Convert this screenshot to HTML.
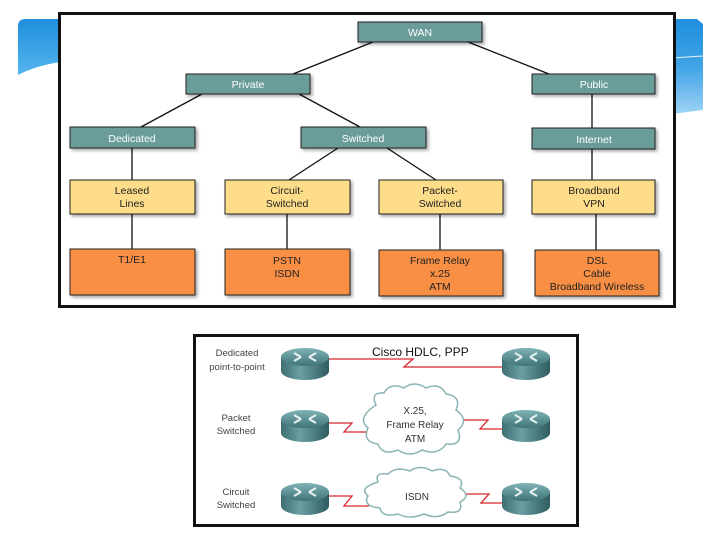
<!DOCTYPE html>
<html><head><meta charset="utf-8"><style>
html,body{margin:0;padding:0;background:#fff;width:720px;height:540px;overflow:hidden}
svg text{font-family:"Liberation Sans",sans-serif}
</style></head><body>
<svg width="720" height="540" viewBox="0 0 720 540" xmlns="http://www.w3.org/2000/svg">
<defs>
<linearGradient id="bl" x1="0" y1="0" x2="0" y2="1"><stop offset="0" stop-color="#1f8fdc"/><stop offset="1" stop-color="#55b5ef"/></linearGradient>
<linearGradient id="br" x1="0" y1="0" x2="0" y2="1"><stop offset="0" stop-color="#1f8fdc"/><stop offset="0.5" stop-color="#3fa3e6"/><stop offset="1" stop-color="#9fd3f6"/></linearGradient>
<linearGradient id="rt" x1="0" y1="0" x2="0" y2="1"><stop offset="0" stop-color="#7fb3b5"/><stop offset="1" stop-color="#3f7478"/></linearGradient>
<linearGradient id="rs" x1="0" y1="0" x2="1" y2="0"><stop offset="0" stop-color="#3d6e72"/><stop offset="0.4" stop-color="#6a9fa2"/><stop offset="1" stop-color="#2f5c60"/></linearGradient>
<filter id="sh" x="-10%" y="-10%" width="130%" height="140%"><feDropShadow dx="2" dy="2" stdDeviation="1.5" flood-color="#000" flood-opacity="0.35"/></filter>
<g id="router">
<path d="M0 8 L0 22 A24 9 0 0 0 48 22 L48 8 Z" fill="url(#rs)"/>
<ellipse cx="24" cy="8" rx="24" ry="9" fill="url(#rt)"/>
<path d="M13 4 L20 8 M35 4 L28 8 M13 12 L20 8 M35 12 L28 8" stroke="#e8f2f2" stroke-width="2"/>
</g>
</defs>
<path d="M18 26 Q18 19 26 19 L60 19 L60 62 Q35 66 18 75 Z" fill="url(#bl)"/>
<path d="M672 19 L697 19 L703 24 L703 110 L672 114 Z" fill="url(#br)"/>
<line x1="672" y1="58" x2="703" y2="56" stroke="#e6f4fc" stroke-width="1"/>
<rect x="59.5" y="13.5" width="615" height="293" fill="#fff" stroke="#111" stroke-width="3"/>
<g stroke="#111" stroke-width="1.3">
<line x1="373" y1="42" x2="293" y2="74"/><line x1="468" y1="42" x2="549" y2="74"/>
<line x1="202" y1="94" x2="141" y2="127"/><line x1="299" y1="94" x2="360" y2="127"/>
<line x1="592" y1="94" x2="592" y2="128"/>
<line x1="132" y1="148" x2="132" y2="180"/>
<line x1="338" y1="148" x2="289" y2="180"/><line x1="387" y1="148" x2="436" y2="180"/>
<line x1="592" y1="149" x2="592" y2="180"/>
<line x1="132" y1="214" x2="132" y2="249"/><line x1="287" y1="214" x2="287" y2="249"/>
<line x1="440" y1="214" x2="440" y2="250"/><line x1="596" y1="214" x2="596" y2="250"/>
</g>
<g stroke="#222" stroke-width="1" filter="url(#sh)">
<g fill="#6a9c9a">
<rect x="358" y="22" width="124" height="20"/>
<rect x="186" y="74" width="124" height="20"/>
<rect x="532" y="74" width="123" height="20"/>
<rect x="70" y="127" width="125" height="21"/>
<rect x="301" y="127" width="125" height="21"/>
<rect x="532" y="128" width="123" height="21"/>
</g>
<g fill="#fddc8a">
<rect x="70" y="180" width="125" height="34"/>
<rect x="225" y="180" width="125" height="34"/>
<rect x="379" y="180" width="124" height="34"/>
<rect x="532" y="180" width="123" height="34"/>
</g>
<g fill="#f88f44">
<rect x="70" y="249" width="125" height="46"/>
<rect x="225" y="249" width="125" height="46"/>
<rect x="379" y="250" width="124" height="46"/>
<rect x="535" y="250" width="124" height="46"/>
</g>
</g>
<g fill="#fff" font-size="10.5" text-anchor="middle">
<text x="420" y="36">WAN</text><text x="248" y="88">Private</text><text x="594" y="88">Public</text>
<text x="132" y="142">Dedicated</text><text x="363" y="142">Switched</text><text x="594" y="143">Internet</text>
</g>
<g fill="#222" font-size="10.5" text-anchor="middle">
<text x="132" y="194">Leased</text><text x="132" y="207">Lines</text>
<text x="287" y="194">Circuit-</text><text x="287" y="207">Switched</text>
<text x="440" y="194">Packet-</text><text x="440" y="207">Switched</text>
<text x="594" y="194">Broadband</text><text x="594" y="207">VPN</text>
<text x="132" y="263">T1/E1</text>
<text x="287" y="264">PSTN</text><text x="287" y="277">ISDN</text>
<text x="440" y="264">Frame Relay</text><text x="440" y="277">x.25</text><text x="440" y="290">ATM</text>
<text x="597" y="264">DSL</text><text x="597" y="277">Cable</text><text x="597" y="290">Broadband Wireless</text>
</g>
<rect x="194.5" y="335.5" width="383" height="190" fill="#fff" stroke="#111" stroke-width="3"/>
<g fill="#444" font-size="9.5" text-anchor="middle">
<text x="237" y="356">Dedicated</text><text x="237" y="370">point-to-point</text>
<text x="236" y="421">Packet</text><text x="236" y="434">Switched</text>
<text x="236" y="495">Circuit</text><text x="236" y="508">Switched</text>
</g>
<text x="372" y="356" font-size="12" fill="#111">Cisco HDLC, PPP</text>
<g stroke="#d8282c" stroke-width="1.3" fill="none">
<polyline points="327,359 413,359 404,367 502,367"/>
<polyline points="327,423 352,423 344,432 369,432"/>
<polyline points="463,420 488,420 480,429 502,429"/>
<polyline points="327,496 352,496 344,506 369,506"/>
<polyline points="464,494 489,494 481,503 502,503"/>
</g>
<g fill="#fff" stroke="#8cb4b4" stroke-width="1.5">
<path d="M376 405 Q370 392 384 393 Q390 382 404 388 Q414 380 426 388 Q440 382 446 394 Q462 396 456 410 Q470 420 458 430 Q464 446 446 444 Q438 456 422 450 Q410 458 398 450 Q382 456 378 444 Q362 442 368 428 Q356 418 376 405 Z"/>
<path d="M378 482 Q374 472 388 474 Q396 466 410 471 Q420 464 432 471 Q446 466 450 476 Q466 478 460 488 Q472 496 460 502 Q464 514 448 512 Q438 520 424 514 Q410 520 398 514 Q382 518 380 508 Q362 506 368 496 Q358 488 378 482 Z"/>
</g>
<g fill="#333" font-size="10" text-anchor="middle">
<text x="415" y="414">X.25,</text><text x="415" y="428">Frame Relay</text><text x="415" y="442">ATM</text>
<text x="417" y="500">ISDN</text>
</g>
<use href="#router" x="281" y="349"/>
<use href="#router" x="502" y="349"/>
<use href="#router" x="281" y="411"/>
<use href="#router" x="502" y="411"/>
<use href="#router" x="281" y="484"/>
<use href="#router" x="502" y="484"/>
</svg>
</body></html>
